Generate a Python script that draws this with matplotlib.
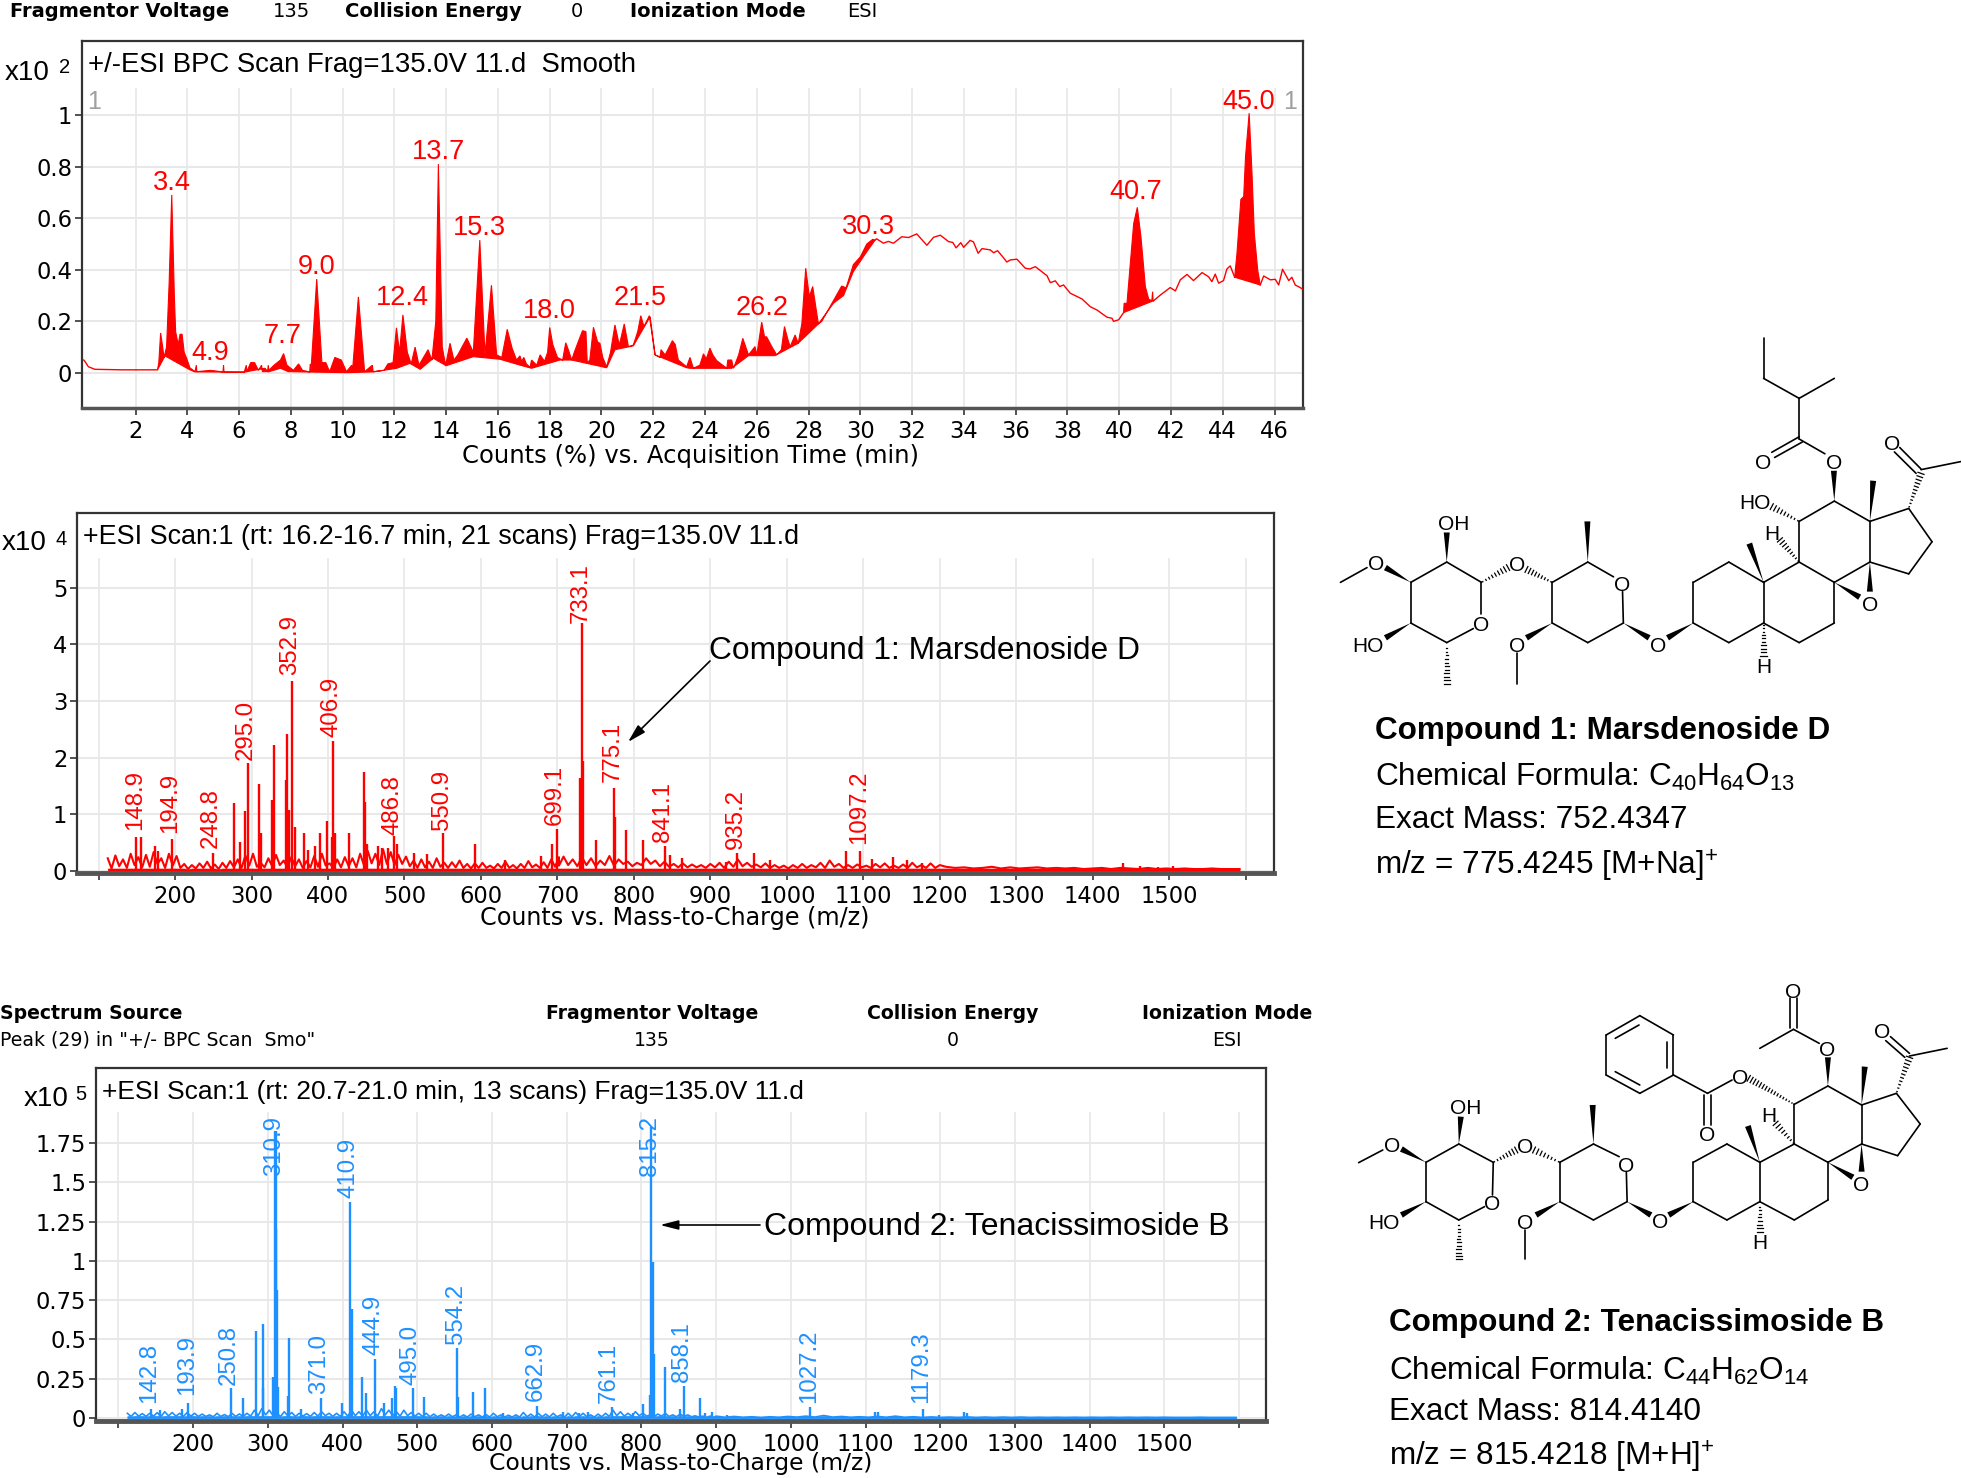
import numpy as np
import matplotlib
matplotlib.use('Agg')
import matplotlib.pyplot as plt

W, H = 1961, 1478
plt.rcParams['font.family'] = ['Liberation Sans', 'DejaVu Sans']
plt.rcParams['mathtext.fontset'] = 'custom'
plt.rcParams['mathtext.rm'] = 'Liberation Sans'
plt.rcParams['mathtext.default'] = 'rm'

RED = '#ff0000'
BLUE = '#1e90ff'
GRID = '#e8e8e8'

# BPC: thin trace outside the filled peak groups
bpc_lead_t = [0.0, 0.05, 0.18, 0.43, 1.5, 2.85]
bpc_lead_v = [0.05, 0.044, 0.024, 0.014, 0.012, 0.012]
bpc_mid_t = [30.57, 30.63, 30.89, 31.08, 31.28, 31.6, 31.86, 32.18, 32.57, 32.83, 33.09, 33.41, 33.57, 33.7, 33.88,
             33.99, 34.24, 34.37, 34.55, 34.7, 35.02, 35.15, 35.3, 35.47, 35.66, 35.79, 36.05, 36.37, 36.54, 36.76,
             37.21, 37.34, 37.53, 37.7, 37.85, 38.11, 38.56, 38.88, 39.14, 39.53, 39.72, 39.78, 39.98, 40.17]
bpc_mid_v = [0.515, 0.52, 0.503, 0.51, 0.503, 0.528, 0.525, 0.539, 0.495, 0.526, 0.534, 0.509, 0.506, 0.485, 0.505,
             0.487, 0.514, 0.508, 0.464, 0.482, 0.477, 0.466, 0.474, 0.454, 0.43, 0.438, 0.441, 0.406, 0.403, 0.412,
             0.377, 0.35, 0.357, 0.335, 0.341, 0.309, 0.287, 0.257, 0.244, 0.216, 0.212, 0.2, 0.206, 0.234]
bpc_mid2_t = [41.33, 41.59, 41.97, 42.17, 42.36, 42.62, 42.87, 43.2, 43.45, 43.58, 43.71, 43.84, 44.03, 44.16, 44.29, 44.46]
bpc_mid2_v = [0.28, 0.302, 0.331, 0.318, 0.361, 0.382, 0.358, 0.389, 0.373, 0.354, 0.383, 0.348, 0.358, 0.403, 0.415, 0.371]
bpc_tail_t = [45.45, 45.58, 45.84, 46.03, 46.16, 46.31, 46.55, 46.67, 46.8, 46.99, 47.08]
bpc_tail_v = [0.341, 0.376, 0.361, 0.363, 0.341, 0.402, 0.358, 0.371, 0.341, 0.331, 0.325]

# BPC: upper and lower edge of the filled groups
fill1_top_t = [2.85, 2.9, 2.97, 3.05, 3.1, 3.2, 3.3, 3.4, 3.5, 3.55, 3.65, 3.72, 3.8, 3.88, 4.0, 4.1, 4.3, 4.35, 4.37,
               4.9, 5.38, 5.4, 5.42, 6.2, 6.28, 6.3, 6.45, 6.6, 6.75, 6.87, 6.9, 7.1, 7.13, 7.15, 7.35, 7.6, 7.72, 7.85,
               8.1, 8.3, 8.45, 8.73, 8.75, 8.78, 9.0, 9.2, 9.35, 9.5, 9.7, 9.95, 10.15, 10.35, 10.38, 10.61, 10.85,
               11.15, 11.18, 11.6, 11.75, 11.95, 12.08, 12.2, 12.33, 12.5, 12.65, 12.8, 12.95, 13.3, 13.45, 13.6, 13.7,
               13.85, 13.98, 14.15, 14.3, 14.45, 14.8, 15.05, 15.3, 15.5, 15.75, 15.95, 16.15, 16.36, 16.55, 16.72, 16.85,
               16.92, 17.0, 17.1, 17.24, 17.3, 17.5, 17.63, 17.8, 17.92,
               18.0, 18.12, 18.3, 18.5, 18.62, 18.72, 18.85, 18.95, 19.1, 19.27, 19.4, 19.45, 19.55, 19.69, 19.85, 19.94,
               20.05, 20.2, 20.35, 20.52, 20.69, 20.88, 21.04, 21.23, 21.4, 21.52,
               21.64, 21.85, 22.07, 22.26, 22.3, 22.46, 22.74, 22.85, 22.97, 23.29, 23.42, 23.55, 23.8, 23.94, 24.05, 24.19, 24.3, 24.45, 24.84, 24.88,
               25.03, 25.1, 25.3, 25.46, 25.68, 25.93, 26.0, 26.19, 26.3, 26.38, 26.58, 26.77, 26.95, 27.07, 27.2, 27.29, 27.48, 27.6, 27.74, 27.89,
               28.03, 28.16, 28.38, 28.51, 28.96, 29.28, 29.45, 29.73, 30.0, 30.25, 30.48, 30.57]
fill1_top_v = [0.012, 0.04, 0.155, 0.1, 0.06, 0.1, 0.35, 0.69, 0.3, 0.16, 0.11, 0.15, 0.15, 0.08, 0.05, 0.02, 0.005, 0.03, 0.005,
               0.01, 0.004, 0.03, 0.003, 0.003, 0.03, 0.005, 0.04, 0.04, 0.01, 0.03, 0.005, 0.005, 0.03, 0.01, 0.03, 0.05, 0.075, 0.03,
               0.01, 0.035, 0.01, 0.004, 0.035, 0.01, 0.364, 0.04, 0.04, 0.005, 0.06, 0.05, 0.005, 0.03, 0.005, 0.295, 0.005,
               0.03, 0.005, 0.01, 0.035, 0.04, 0.175, 0.08, 0.225, 0.08, 0.035, 0.1, 0.03, 0.09, 0.05, 0.2, 0.81,
               0.1, 0.03, 0.115, 0.05, 0.07, 0.135, 0.08, 0.515, 0.07, 0.34, 0.07, 0.06, 0.169, 0.095, 0.05, 0.066,
               0.045, 0.06, 0.035, 0.022, 0.05, 0.03, 0.07, 0.045, 0.08,
               0.176, 0.11, 0.06, 0.05, 0.117, 0.09, 0.05, 0.08, 0.12, 0.164, 0.16, 0.04, 0.05, 0.177, 0.12, 0.115,
               0.06, 0.024, 0.08, 0.186, 0.108, 0.19, 0.102, 0.108, 0.16, 0.222,
               0.18, 0.222, 0.07, 0.06, 0.09, 0.07, 0.125, 0.11, 0.05, 0.024, 0.06, 0.018, 0.03, 0.074, 0.055, 0.096, 0.07, 0.048, 0.018, 0.05,
               0.05, 0.018, 0.07, 0.134, 0.07, 0.102, 0.07, 0.197, 0.14, 0.14, 0.102, 0.07, 0.09, 0.18, 0.13, 0.102, 0.147, 0.115, 0.19, 0.406,
               0.296, 0.335, 0.19, 0.2, 0.28, 0.337, 0.33, 0.42, 0.45, 0.5, 0.518, 0.515]
fill1_low_t = [2.85, 3.14, 4.1, 4.3, 6.2, 7.0, 7.13, 7.6, 7.9, 10.16, 11.19, 12.09, 12.6, 13.0, 13.5, 14.0, 15.05, 16.08,
               16.86, 17.3, 18.4, 18.85, 20.2, 20.52, 21.23, 21.88, 22.07, 23.29, 23.42, 25.03, 25.68, 26.7, 27.6, 28.38,
               28.96, 29.35, 29.73, 30.25, 30.57]
fill1_low_v = [0.012, 0.066, 0.012, 0.004, 0.003, 0.018, 0.004, 0.018, 0.005, 0.001, 0.004, 0.018, 0.037, 0.014, 0.057, 0.028, 0.063, 0.053,
               0.03, 0.018, 0.05, 0.05, 0.02, 0.09, 0.105, 0.218, 0.07, 0.02, 0.018, 0.018, 0.067, 0.067, 0.115, 0.19,
               0.27, 0.3, 0.393, 0.47, 0.515]
fill2_top_t = [40.17, 40.19, 40.3, 40.43, 40.56, 40.7, 40.84, 41.01, 41.14, 41.26, 41.29, 41.31, 41.33]
fill2_top_v = [0.234, 0.27, 0.27, 0.425, 0.58, 0.642, 0.528, 0.335, 0.286, 0.28, 0.315, 0.28, 0.28]
fill3_top_t = [44.46, 44.55, 44.7, 44.81, 44.88, 45.02, 45.13, 45.22, 45.35, 45.45]
fill3_top_v = [0.371, 0.464, 0.673, 0.684, 0.839, 1.007, 0.774, 0.54, 0.399, 0.341]

bpc_yticks = [0, 0.2, 0.4, 0.6, 0.8, 1]
bpc_ylabels = ['0', '0.2', '0.4', '0.6', '0.8', '1']
bpc_xticks = list(range(2, 48, 2))
rt_labels = ['3.4', '4.9', '7.7', '9.0', '12.4', '13.7', '15.3', '18.0', '21.5', '26.2', '30.3', '40.7', '45.0']
rt_label_t = [3.4, 4.9, 7.7, 9.0, 12.3, 13.7, 15.3, 18.0, 21.5, 26.2, 30.3, 40.65, 45.0]
rt_label_v = [0.695, 0.035, 0.1, 0.37, 0.25, 0.815, 0.52, 0.197, 0.25, 0.21, 0.525, 0.66, 1.01]

# scan 1, sticks above the grass
scan1_mz = [149, 155, 174, 178, 196, 250, 277, 285, 291, 295.5, 310, 313, 327.4, 330, 345, 347, 349, 353, 357, 369, 374.5,
            383.6, 389, 399, 405, 407, 409, 428, 447, 448.6, 451, 466, 470, 479, 486.5, 490, 513, 529, 551, 592, 631,
            678, 693, 699, 730, 732, 733.5, 750, 774, 775, 790, 811.7, 841, 847.4, 862.7, 921, 935, 956.4, 978,
            1077.6, 1096, 1111, 1139, 1157, 1177, 1440, 1462, 1485, 1505]
scan1_int = [0.59, 0.6, 0.44, 0.35, 0.555, 0.32, 1.19, 0.51, 1.06, 1.9, 1.53, 0.66, 1.25, 2.22, 1.6, 2.41, 1.07, 3.35, 0.78, 0.66, 0.37,
             0.43, 0.66, 0.87, 0.6, 2.3, 0.66, 0.67, 1.75, 1.22, 0.48, 0.43, 0.4, 0.4, 0.61, 0.48, 0.32, 0.3, 0.66, 0.48, 0.19,
             0.26, 0.47, 0.73, 1.63, 4.38, 1.93, 0.54, 1.47, 0.95, 0.72, 0.55, 0.44, 0.28, 0.22, 0.16, 0.32, 0.32, 0.19,
             0.34, 0.34, 0.2, 0.25, 0.19, 0.14, 0.13, 0.08, 0.07, 0.09]
# scan 1 grass, read as a strip every few m/z
grass1_a = [0.22, 0.04, 0.27, 0.08, 0.2, 0.05, 0.3, 0.1, 0.24, 0.06, 0.28, 0.07, 0.33, 0.12, 0.22, 0.05, 0.3, 0.09, 0.26, 0.05,
            0.12, 0.03, 0.1, 0.04, 0.13, 0.05, 0.16, 0.04, 0.11, 0.03, 0.14, 0.05, 0.17, 0.06, 0.2, 0.05, 0.27, 0.09, 0.3, 0.07,
            0.14, 0.06, 0.22, 0.08, 0.28, 0.1, 0.18, 0.06, 0.24, 0.08, 0.2, 0.05, 0.17, 0.06, 0.26, 0.07, 0.3, 0.09, 0.13, 0.05,
            0.2, 0.06, 0.24, 0.08, 0.22, 0.06, 0.3, 0.1, 0.35, 0.13, 0.3, 0.1, 0.38, 0.12, 0.33, 0.1, 0.28, 0.12, 0.25, 0.08,
            0.18, 0.05, 0.2, 0.06, 0.16, 0.05, 0.22, 0.07, 0.14, 0.05, 0.15, 0.06, 0.18, 0.05, 0.12, 0.04, 0.13, 0.05, 0.14, 0.05,
            0.09, 0.04, 0.12, 0.05, 0.16, 0.05, 0.1, 0.04, 0.12, 0.05, 0.17, 0.06, 0.11, 0.05, 0.15, 0.05, 0.2, 0.07, 0.24]
grass1_b = [0.09, 0.25, 0.1, 0.2, 0.08, 0.24, 0.1, 0.22, 0.08, 0.18, 0.1, 0.26, 0.09, 0.2, 0.12, 0.16, 0.08, 0.14, 0.1, 0.22,
            0.12, 0.18, 0.08, 0.16, 0.07, 0.12, 0.06, 0.13, 0.06, 0.11, 0.06, 0.1, 0.05, 0.12, 0.06, 0.14, 0.05, 0.16, 0.07, 0.2,
            0.08, 0.14, 0.07, 0.11, 0.06, 0.13, 0.05, 0.1, 0.05, 0.09, 0.04, 0.1, 0.05, 0.12, 0.05, 0.1, 0.06, 0.14, 0.05, 0.18,
            0.07, 0.12, 0.05, 0.1, 0.05, 0.11, 0.06, 0.09, 0.05, 0.12, 0.06, 0.13, 0.05, 0.09, 0.05, 0.11, 0.05, 0.14, 0.06, 0.1,
            0.05, 0.13, 0.05, 0.1]
grass1_c = [0.07, 0.05, 0.06, 0.04, 0.05, 0.07, 0.04, 0.06, 0.04, 0.05, 0.06, 0.04, 0.05, 0.04, 0.05, 0.03, 0.04, 0.05, 0.03, 0.05,
            0.04, 0.03, 0.05, 0.03, 0.04, 0.03, 0.04, 0.03, 0.03, 0.04, 0.03, 0.03, 0.03]
scan1_label = ['148.9', '194.9', '248.8', '295.0', '352.9', '406.9', '486.8', '550.9', '699.1', '733.1', '775.1', '841.1', '935.2', '1097.2']
scan1_label_mz = [148, 193, 247, 293, 350, 405, 485, 549, 696, 731, 773, 838, 933, 1094]
scan1_label_v = [0.72, 0.66, 0.395, 1.96, 3.45, 2.36, 0.63, 0.72, 0.8, 4.37, 1.57, 0.5, 0.38, 0.47]
scan1_yticks = [0, 1, 2, 3, 4, 5]

# scan 2
scan2_mz = [143.3, 156, 185, 193.7, 250.4, 266.5, 284, 293, 294, 307.5, 310, 310.6, 311.5, 312, 314, 327.6, 328.5, 344.6, 371, 399,
            410.6, 412.4, 425.8, 432, 444, 455, 466, 470, 472, 494, 509.6, 553.4, 555, 574.4, 591, 615, 660, 695.7, 716, 729,
            760.4, 789, 801.5, 811, 813.5, 815, 817, 831, 852, 857, 878.6, 885, 894, 914, 1026, 1113, 1117, 1177, 1198, 1232, 1236]
scan2_int = [0.06, 0.05, 0.06, 0.094, 0.19, 0.125, 0.554, 0.6, 0.19, 0.26, 1.83, 1.83, 1.2, 0.815, 0.2, 0.14, 0.51, 0.06, 0.125, 0.095,
             1.377, 0.694, 0.26, 0.157, 0.376, 0.095, 0.125, 0.204, 0.19, 0.19, 0.136, 0.444, 0.135, 0.168, 0.19, 0.035, 0.079, 0.04, 0.035, 0.04,
             0.072, 0.03, 0.09, 0.146, 1.85, 0.995, 0.41, 0.327, 0.06, 0.204, 0.125, 0.03, 0.04, 0.02, 0.072, 0.036, 0.04, 0.06, 0.02, 0.036, 0.03]
grass2_a = [0.03, 0.01, 0.035, 0.012, 0.028, 0.01, 0.03, 0.012, 0.034, 0.01, 0.04, 0.014, 0.035, 0.012, 0.03, 0.01, 0.035, 0.012, 0.03, 0.01,
            0.025, 0.01, 0.02, 0.008, 0.03, 0.01, 0.022, 0.008, 0.03, 0.01, 0.026, 0.01, 0.03, 0.012, 0.05, 0.015, 0.06, 0.02, 0.05, 0.015,
            0.03, 0.01, 0.04, 0.012, 0.035, 0.01, 0.03, 0.012, 0.028, 0.01, 0.035, 0.012, 0.04, 0.015, 0.03, 0.01, 0.03, 0.01, 0.04, 0.012,
            0.05, 0.015, 0.04, 0.012, 0.05, 0.015, 0.04, 0.012, 0.06, 0.02, 0.05, 0.015, 0.04, 0.012, 0.05, 0.015, 0.035, 0.012, 0.03, 0.01,
            0.03, 0.008, 0.025, 0.008, 0.02, 0.008, 0.025, 0.008, 0.02, 0.006, 0.02, 0.006, 0.025, 0.008, 0.02, 0.006, 0.022, 0.006, 0.03, 0.008,
            0.02, 0.006, 0.018, 0.006, 0.02, 0.006, 0.035, 0.008, 0.025, 0.006, 0.03, 0.008, 0.025, 0.006, 0.03, 0.008, 0.02, 0.006, 0.03, 0.008,
            0.035, 0.01, 0.03, 0.008, 0.02, 0.006, 0.025, 0.008, 0.03, 0.01, 0.05, 0.015, 0.04, 0.012, 0.03, 0.012, 0.04, 0.015, 0.03, 0.012,
            0.02, 0.01, 0.025, 0.012, 0.03, 0.01, 0.02, 0.008, 0.025, 0.01, 0.02, 0.008, 0.014, 0.006, 0.012, 0.005, 0.012, 0.005]
grass2_b = [0.012, 0.005, 0.01, 0.005, 0.008, 0.004, 0.008, 0.005, 0.01, 0.006, 0.012, 0.006, 0.016, 0.006, 0.01, 0.005, 0.008, 0.005,
            0.01, 0.005, 0.012, 0.005, 0.008, 0.004, 0.007, 0.004, 0.006, 0.004, 0.007, 0.004, 0.006, 0.004, 0.006, 0.004, 0.006, 0.004,
            0.005, 0.004, 0.005, 0.004, 0.005, 0.004, 0.005, 0.004, 0.005, 0.004, 0.005, 0.004, 0.005, 0.004, 0.005, 0.004, 0.004, 0.004,
            0.005, 0.004, 0.004, 0.004, 0.004]
scan2_label = ['142.8', '193.9', '250.8', '310.9', '371.0', '410.9', '444.9', '495.0', '554.2', '662.9', '761.1', '815.2', '858.1', '1027.2', '1179.3']
scan2_label_mz = [141, 191.5, 248, 308, 369, 408, 442, 491, 552, 659, 756, 812, 855, 1024, 1175]
scan2_label_v = [0.093, 0.147, 0.21, 1.54, 0.153, 1.4, 0.4, 0.21, 0.471, 0.108, 0.094, 1.54, 0.23, 0.094, 0.094]
scan2_yticks = [0, 0.25, 0.5, 0.75, 1, 1.25, 1.5, 1.75]
scan2_ylabels = ['0', '0.25', '0.5', '0.75', '1', '1.25', '1.5', '1.75']
mz_ticks = list(range(100, 1700, 100))
mz_labels = [''] + [str(m) for m in range(200, 1600, 100)] + ['']

fig = plt.figure(figsize=(W / 100, H / 100), dpi=100, facecolor='white')


def make_axes(left, right, top, bottom, xlim, ylim, xticks, xlabels, yticks, ylabels, grid_top, spine_bottom):
    ax = fig.add_axes([left / W, 1 - bottom / H, (right - left) / W, (bottom - top) / H])
    ax.set_xlim(*xlim)
    ax.set_ylim(*ylim)
    ax.set_xticks(xticks, xlabels)
    ax.set_yticks(yticks, ylabels)
    ax.tick_params(axis='both', length=5, width=1.2, labelsize=16.3, color='#333333', pad=3.5)
    ax.tick_params(axis='y', pad=2)
    # wide digits, the originals are stretched sideways
    for t in ax.get_xticklabels() + ax.get_yticklabels():
        t.set_family('DejaVu Sans')
    frac = (grid_top - ylim[0]) / (ylim[1] - ylim[0])
    for x in xticks:
        ax.axvline(x, ymax=frac, color=GRID, lw=1.2, zorder=0)
    for y in yticks:
        ax.axhline(y, color=GRID, lw=1.5, zorder=0)
    for s in ax.spines.values():
        s.set_color('#333333')
        s.set_linewidth(1.6)
    ax.spines['bottom'].set_linewidth(spine_bottom)
    ax.spines['bottom'].set_color('#555555')
    return ax


# retention time trace
ax1 = make_axes(82, 1303, 41, 408, (-0.067, 47.1), (-0.136, 1.287), bpc_xticks, [str(t) for t in bpc_xticks],
                bpc_yticks, bpc_ylabels, 1.10, 2.5)
ax1.fill(fill1_top_t + fill1_low_t[::-1], fill1_top_v + fill1_low_v[::-1], color=RED, lw=0.8, zorder=3)
low2_t = [fill2_top_t[0], fill2_top_t[-1]]
low2_v = [fill2_top_v[0], fill2_top_v[-1]]
low3_t = [fill3_top_t[0], fill3_top_t[-1]]
low3_v = [fill3_top_v[0], fill3_top_v[-1]]
ax1.fill(fill2_top_t + low2_t[::-1], fill2_top_v + low2_v[::-1], color=RED, lw=0.8, zorder=3)
ax1.fill(fill3_top_t + low3_t[::-1], fill3_top_v + low3_v[::-1], color=RED, lw=0.8, zorder=3)
for tt, vv in [(bpc_lead_t, bpc_lead_v), (bpc_mid_t, bpc_mid_v), (bpc_mid2_t, bpc_mid2_v), (bpc_tail_t, bpc_tail_v)]:
    ax1.plot(tt, vv, color=RED, lw=1.0, zorder=3)
for s, t, v in zip(rt_labels, rt_label_t, rt_label_v):
    ax1.text(t, v - 0.008, s, color=RED, fontsize=19.5, ha='center', va='bottom', zorder=4)
ax1.text(0.12, 1.05, '1', color='#a0a0a0', fontsize=18, ha='left', va='center')
ax1.text(46.85, 1.05, '1', color='#a0a0a0', fontsize=18, ha='right', va='center')

# scan 1
ax2 = make_axes(77, 1274, 513, 873, (71.8, 1637), (-0.04, 6.32), mz_ticks, mz_labels,
                scan1_yticks, [str(v) for v in scan1_yticks], 5.5, 3.5)
grass1_mz = np.concatenate([np.arange(len(grass1_a)) * 5 + 112, np.arange(len(grass1_b)) * 6 + 702, np.arange(len(grass1_c)) * 12 + 1208])
grass1 = np.array(grass1_a + grass1_b + grass1_c)
ax2.fill_between(grass1_mz, 0, np.minimum(grass1, 0.04), color=RED, lw=0.4, zorder=2)
ax2.plot(grass1_mz, grass1, color=RED, lw=1.5, zorder=2)
ax2.vlines(scan1_mz, 0, scan1_int, color=RED, lw=1.7, zorder=3)
for s, m, v in zip(scan1_label, scan1_label_mz, scan1_label_v):
    ax2.text(m, v, s, color=RED, fontsize=17.3, rotation=90, ha='center', va='bottom', zorder=4)

# scan 2
ax3 = make_axes(96, 1266, 1068, 1421, (70, 1636), (-0.019, 2.228), mz_ticks, mz_labels,
                scan2_yticks, scan2_ylabels, 1.94, 3.5)
grass2_mz = np.concatenate([np.arange(len(grass2_a)) * 5 + 112, np.arange(len(grass2_b)) * 12 + 900])
grass2 = np.array(grass2_a + grass2_b)
ax3.fill_between(grass2_mz, 0, np.minimum(grass2, 0.012), color=BLUE, lw=0.6, zorder=2)
ax3.plot(grass2_mz, grass2, color=BLUE, lw=1.2, zorder=2)
ax3.vlines(scan2_mz, 0, scan2_int, color=BLUE, lw=1.7, zorder=3)
for s, m, v in zip(scan2_label, scan2_label_mz, scan2_label_v):
    ax3.text(m, v, s, color=BLUE, fontsize=17.3, rotation=90, ha='center', va='bottom', zorder=4)

# page layer in pixels for text and drawings
pg = fig.add_axes([0, 0, 1, 1], zorder=10)
pg.set_xlim(0, W)
pg.set_ylim(H, 0)
pg.axis('off')
pg.patch.set_alpha(0)


def txt(x, y, s, size=18, ha='left', **kw):
    pg.text(x, y + 2.5, s, fontsize=size, ha=ha, va='center', **kw)


# instrument header text
head = dict(size=14.0, family='DejaVu Sans')
head2 = dict(size=13.6, family='DejaVu Sans')
txt(10, 9, 'Fragmentor Voltage', weight='bold', **head)
txt(273, 9, '135', **head)
txt(345, 9, 'Collision Energy', weight='bold', **head)
txt(571, 9, '0', **head)
txt(630, 9, 'Ionization Mode', weight='bold', **head)
txt(847, 9, 'ESI', **head)
txt(0, 1011, 'Spectrum Source', weight='bold', **head2)
txt(0, 1038, 'Peak (29) in "+/- BPC Scan  Smo"', **head2)
txt(652, 1011, 'Fragmentor Voltage', ha='center', weight='bold', **head2)
txt(652, 1038, '135', ha='center', **head2)
txt(953, 1011, 'Collision Energy', ha='center', weight='bold', **head2)
txt(953, 1038, '0', ha='center', **head2)
txt(1227, 1011, 'Ionization Mode', ha='center', weight='bold', **head2)
txt(1227, 1038, 'ESI', ha='center', **head2)

txt(88, 63, '+/-ESI BPC Scan Frag=135.0V 11.d  Smooth', size=19.8)
txt(83, 534, '+ESI Scan:1 (rt: 16.2-16.7 min, 21 scans) Frag=135.0V 11.d', size=19.4)
txt(102, 1089, '+ESI Scan:1 (rt: 20.7-21.0 min, 13 scans) Frag=135.0V 11.d', size=19.0)
txt(5, 71, 'x10', size=20)
txt(59, 65, '2', size=14.5)
txt(2, 541, 'x10', size=20)
txt(55, 537, '4', size=14.5)
txt(24, 1096, 'x10', size=20)
txt(75, 1092, '5', size=14.5)
axis_font = dict(family='DejaVu Sans', ha='center')
txt(691, 453, 'Counts (%) vs. Acquisition Time (min)', size=17.5, **axis_font)
txt(675, 916, 'Counts vs. Mass-to-Charge (m/z)', size=17.2, **axis_font)
txt(681, 1461, 'Counts vs. Mass-to-Charge (m/z)', size=16.9, **axis_font)

txt(709, 649, 'Compound 1: Marsdenoside D', size=22.9)
pg.annotate('', xy=(628, 742), xytext=(710, 661), arrowprops=dict(arrowstyle='-|>,head_length=1.1,head_width=0.3', color='black', lw=1.2, shrinkA=0, shrinkB=0))
txt(764, 1224, 'Compound 2: Tenacissimoside B', size=23.0)
pg.annotate('', xy=(660, 1225), xytext=(760, 1225), arrowprops=dict(arrowstyle='-|>,head_length=1.1,head_width=0.28', color='black', lw=1.2, shrinkA=0, shrinkB=0))

txt(1375, 728, 'Compound 1: Marsdenoside D', size=22.7, weight='bold')
txt(1375, 774, 'Chemical Formula: C$_{40}$H$_{64}$O$_{13}$', size=22.7)
txt(1375, 818, 'Exact Mass: 752.4347', size=22.7)
txt(1375, 863, 'm/z = 775.4245 [M+Na]$^{+}$', size=22.7)
txt(1389, 1320, 'Compound 2: Tenacissimoside B', size=22.7, weight='bold')
txt(1389, 1368, 'Chemical Formula: C$_{44}$H$_{62}$O$_{14}$', size=22.7)
txt(1389, 1410, 'Exact Mass: 814.4140', size=22.7)
txt(1389, 1454, 'm/z = 815.4218 [M+H]$^{+}$', size=22.7)


# structure drawings, coordinates
def draw_mol(ox, oy, kx, ky, bonds, wedges, hashes, labels):
    f = lambda p: (ox + p[0] / kx, oy + p[1] / ky)
    for a, b in bonds:
        pa, pb = f(a), f(b)
        pg.plot([pa[0], pb[0]], [pa[1], pb[1]], color='black', lw=1.2, solid_capstyle='round')
    for a, b in wedges:
        pa, pb = np.array(f(a)), np.array(f(b))
        d = pb - pa
        n = np.array([-d[1], d[0]]) / np.hypot(*d) * 3.0
        pg.fill(*zip(pa, pb + n, pb - n), color='black', lw=0)
    for a, b in hashes:
        pa, pb = np.array(f(a)), np.array(f(b))
        d = pb - pa
        n = np.array([-d[1], d[0]]) / np.hypot(*d) * 3.2
        for u in np.linspace(0.05, 1, int(np.hypot(*d) / 3.2)):
            c = pa + d * u
            e = n * u
            pg.plot([c[0] - e[0], c[0] + e[0]], [c[1] - e[1], c[1] + e[1]], color='black', lw=0.9)
    for x, y, s in labels:
        px, py = f((x, y))
        pg.text(px, py + 2, s, fontsize=15, ha='center', va='center', color='black')


mol1_bonds = [((1085, 48), (1085, 158)), ((1085, 158), (1172, 212)), ((1172, 212), (1258, 158)), ((1172, 212), (1172, 322)),
              ((1172, 316), (1105, 358)), ((1180, 330), (1112, 372)), ((1172, 322), (1235, 362)),
              ((1258, 490), (1172, 545)), ((1258, 490), (1345, 545)), ((1345, 545), (1440, 510)), ((1440, 510), (1497, 600)),
              ((1497, 600), (1440, 687)), ((1440, 687), (1345, 655)), ((1345, 655), (1345, 545)),
              ((1470, 403), (1418, 345)), ((1458, 415), (1405, 357)), ((1470, 405), (1568, 383)),
              ((1172, 545), (1172, 655)), ((1172, 655), (1258, 710)), ((1172, 655), (1085, 710)), ((1258, 710), (1345, 655)),
              ((1258, 710), (1258, 820)), ((1258, 820), (1172, 873)), ((1172, 873), (1085, 820)), ((1085, 820), (1085, 710)),
              ((1085, 710), (1000, 655)), ((1000, 655), (913, 710)), ((913, 710), (913, 820)), ((913, 820), (1000, 873)),
              ((1000, 873), (1085, 820)), ((742, 820), (655, 873)), ((655, 873), (568, 820)), ((568, 820), (568, 710)),
              ((568, 710), (655, 655)), ((655, 655), (718, 695)), ((740, 735), (742, 820)), ((482, 900), (482, 985)),
              ((395, 710), (395, 795)), ((375, 835), (310, 873)), ((310, 873), (222, 820)), ((222, 820), (222, 710)),
              ((222, 710), (310, 655)), ((310, 655), (395, 710)), ((115, 670), (50, 710))]
mol1_wedges = [((1258, 490), (1257, 408)), ((1345, 545), (1353, 435)), ((1345, 655), (1345, 735)), ((1258, 710), (1320, 750)),
               ((1085, 710), (1050, 605)), ((913, 820), (850, 860)), ((742, 820), (805, 860)), ((655, 655), (654, 545)),
               ((568, 820), (505, 860)), ((310, 655), (310, 575)), ((222, 710), (160, 670)), ((222, 820), (160, 860))]
mol1_hashes = [((1440, 510), (1470, 415)), ((1172, 545), (1105, 505)), ((1172, 655), (1125, 595)), ((1085, 820), (1085, 908)),
               ((568, 710), (505, 675)), ((395, 710), (460, 670)), ((310, 873), (310, 985))]
mol1_labels = [(1085, 383, 'O'), (1257, 382, 'O'), (1400, 332, 'O'), (1065, 492, 'HO'), (1105, 575, 'H'), (1345, 768, 'O'), (1085, 935, 'H'),
               (827, 877, 'O'), (740, 712, 'O'), (482, 878, 'O'), (482, 658, 'O'), (395, 820, 'O'), (327, 548, 'OH'), (137, 657, 'O'), (118, 878, 'HO')]
draw_mol(1320, 320, 2.446, 2.706, mol1_bonds, mol1_wedges, mol1_hashes, mol1_labels)

mol2_bonds = [((757, 137), (842, 195)), ((842, 195), (842, 315)), ((842, 315), (757, 370)), ((757, 370), (672, 315)), ((672, 315), (672, 195)),
              ((672, 195), (757, 137)), ((695, 205), (755, 165)), ((825, 215), (825, 295)), ((695, 305), (757, 345)), ((842, 315), (928, 370)),
              ((920, 375), (920, 465)), ((937, 375), (937, 465)), ((928, 370), (990, 330)), ((1147, 403), (1232, 348)), ((1210, 220), (1145, 178)),
              ((1145, 178), (1060, 235)), ((1137, 175), (1137, 85)), ((1153, 175), (1153, 85)), ((1232, 348), (1317, 405)), ((1317, 405), (1405, 370)),
              ((1405, 370), (1465, 462)), ((1465, 462), (1408, 557)), ((1408, 557), (1317, 522)), ((1317, 522), (1317, 405)),
              ((1438, 250), (1390, 200)), ((1426, 262), (1378, 212)), ((1438, 258), (1533, 235)),
              ((1147, 403), (1147, 522)), ((1147, 522), (1232, 577)), ((1147, 522), (1060, 577)), ((1232, 577), (1317, 522)), ((1232, 577), (1232, 690)),
              ((1232, 690), (1147, 750)), ((1147, 750), (1060, 695)), ((1060, 695), (1060, 577)), ((1060, 577), (977, 522)), ((977, 522), (892, 577)),
              ((892, 577), (892, 695)), ((892, 695), (977, 750)), ((977, 750), (1060, 695)), ((725, 695), (640, 750)), ((640, 750), (555, 695)),
              ((555, 695), (555, 577)), ((555, 577), (640, 522)), ((640, 522), (705, 560)), ((723, 605), (725, 695)), ((468, 780), (468, 868)),
              ((387, 577), (385, 675)), ((365, 710), (300, 750)), ((300, 750), (217, 695)), ((217, 695), (217, 577)), ((217, 577), (300, 522)),
              ((300, 522), (387, 577)), ((108, 540), (47, 578))]
mol2_wedges = [((1232, 348), (1232, 262)), ((1317, 405), (1325, 290)), ((1060, 577), (1030, 468)), ((1317, 522), (1317, 605)), ((1232, 577), (1295, 622)),
               ((892, 695), (830, 735)), ((725, 695), (785, 735)), ((640, 522), (638, 405)), ((555, 695), (495, 735)), ((300, 522), (305, 440)),
               ((217, 577), (155, 537)), ((217, 695), (155, 735))]
mol2_hashes = [((1147, 403), (1032, 325)), ((1405, 370), (1438, 262)), ((1147, 522), (1100, 460)), ((1060, 695), (1060, 785)), ((555, 577), (490, 540)),
               ((387, 577), (445, 540)), ((300, 750), (300, 868))]
mol2_labels = [(1145, 62, 'O'), (1368, 182, 'O'), (1230, 235, 'O'), (1010, 318, 'O'), (928, 490, 'O'), (1082, 435, 'H'), (1315, 640, 'O'), (1060, 815, 'H'),
               (808, 750, 'O'), (723, 582, 'O'), (468, 755, 'O'), (468, 527, 'O'), (385, 697, 'O'), (318, 408, 'OH'), (132, 525, 'O'), (112, 755, 'HO')]
draw_mol(1340, 970, 2.525, 3.0, mol2_bonds, mol2_wedges, mol2_hashes, mol2_labels)

fig.savefig('out.png', dpi=100)
